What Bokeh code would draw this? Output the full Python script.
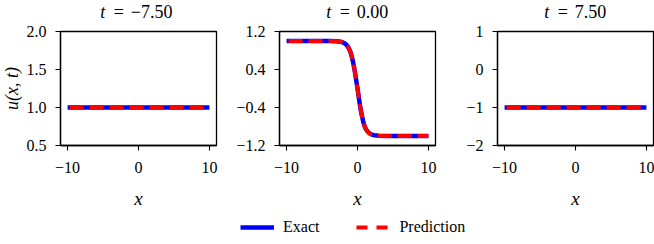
import math
from bokeh.plotting import figure
from bokeh.layouts import row, column
from bokeh.models import (FixedTicker, CustomJSTickFormatter, Legend,
                          LegendItem, Range1d)
from bokeh.core.properties import value
from bokeh.embed import file_html
from bokeh.resources import INLINE

# ---------------- data ----------------
t_values = [-7.5, 0.0, 7.5]
x_ticks = [-10, 0, 10]
y_ticks_left = [0.5, 1.0, 1.5, 2.0]
y_ticks_mid = [-1.2, -0.4, 0.4, 1.2]
y_ticks_right = [-2, -1, 0, 1]
y_lim_left = (0.5, 2.0)
y_lim_mid = (-1.2, 1.2)
y_lim_right = (-2.0, 1.0)
y_label = "u(x, t)"
x_label = "x"
legend_labels = ["Exact", "Prediction"]

x_left = [-10, -5, 0, 5, 10]
u_left_exact = [1.0, 1.0, 1.0, 1.0, 1.0]
u_left_pred = [1.0, 1.0, 1.0, 1.0, 1.0]

x_mid = [-10, -6, -4, -3, -2.4, -2.0, -1.8, -1.6, -1.4, -1.2, -1.0, -0.8, -0.6,
         -0.4, -0.2, 0.0, 0.2, 0.4, 0.6, 0.8, 1.0, 1.2, 1.4, 1.6, 1.8, 2.0,
         2.4, 3.0, 4.0, 6.0, 10.0]
u_mid_exact = [1.0, 1.0, 1.0, 0.995, 0.985, 0.965, 0.95, 0.925, 0.89, 0.84,
               0.77, 0.67, 0.54, 0.38, 0.19, 0.0, -0.2, -0.4, -0.56, -0.69,
               -0.79, -0.86, -0.9, -0.93, -0.955, -0.97, -0.985, -0.995, -1.0,
               -1.0, -1.0]
u_mid_pred = list(u_mid_exact)

x_right = [-10, -5, 0, 5, 10]
u_right_exact = [-1.0, -1.0, -1.0, -1.0, -1.0]
u_right_pred = [-1.0, -1.0, -1.0, -1.0, -1.0]

# ---------------- style ----------------
FONT = "'Liberation Serif', serif"
TICK_PX = "16px"
LABEL_PX = "19px"
TITLE_PX = 18
BLUE = "#0000ff"
RED = "#ff0000"

FRAME_W, FRAME_H = 156, 114
TITLE_H = 21
BORDER_TOP = 10
BORDER_BOTTOM = 72
PANEL_H = BORDER_TOP + FRAME_H + BORDER_BOTTOM
YLAB_W = 22
X_RANGE = (-11, 11)

# approximate math-style advances (em) for laying out the title pieces
EM_ADV = {"−": 0.778, ".": 0.278}


def adv(s, px):
    return sum(EM_ADV.get(c, 0.5) for c in s) * px


def fmt_code(dec):
    return "var s = tick.toFixed(%d); return s.replace('-', '\\u2212');" % dec


def blank_fig(width, height, xr, yr):
    f = figure(width=width, height=height, min_border=0, title=None,
               x_range=Range1d(*xr), y_range=Range1d(*yr),
               toolbar_location=None, output_backend="svg",
               background_fill_color="white", border_fill_color="white")
    f.outline_line_color = None
    f.axis.visible = False
    f.grid.visible = False
    return f


def make_title(tval, left, right):
    f = figure(frame_width=FRAME_W, frame_height=TITLE_H, min_border_left=left,
               min_border_right=right, min_border_top=0, min_border_bottom=0,
               title=None,
               x_range=Range1d(*X_RANGE), y_range=Range1d(0, TITLE_H),
               toolbar_location=None, output_backend="svg",
               background_fill_color="white", border_fill_color="white")
    f.outline_line_color = None
    f.axis.visible = False
    f.grid.visible = False
    val = ("%.2f" % tval).replace("-", "−")
    px = TITLE_PX
    t_w, gap, eq_w = 0.361 * px, 0.278 * px, 0.778 * px
    total = t_w + gap + eq_w + gap + adv(val, px)
    start = -total / 2.0
    mid_y = TITLE_H - (17.3 - 0.34 * px)
    common = dict(text_font=value(FONT), text_font_size="%dpx" % px,
                  text_color="black", text_baseline="middle")
    f.text(x=[0], y=[mid_y], text=["t"], x_offset=start, text_align="left",
           text_font_style="italic", **common)
    f.text(x=[0], y=[mid_y], text=["="], x_offset=start + t_w + gap + eq_w / 2,
           text_align="center", **common)
    f.text(x=[0], y=[mid_y], text=[val],
           x_offset=start + t_w + gap + eq_w + gap, text_align="left", **common)
    return f


def make_panel(xs, ue, up, ylim, yticks, ydec, left, right):
    p = figure(frame_width=FRAME_W, frame_height=FRAME_H,
               min_border_left=left, min_border_right=right,
               min_border_top=BORDER_TOP, min_border_bottom=BORDER_BOTTOM,
               title=None,
               x_range=Range1d(*X_RANGE), y_range=Range1d(*ylim),
               toolbar_location=None, output_backend="svg",
               background_fill_color="white", border_fill_color="white")
    p.grid.visible = False
    p.outline_line_color = "black"
    p.outline_line_width = 1.3
    p.outline_line_alpha = 1.0

    for ax in (p.xaxis[0], p.yaxis[0]):
        ax.axis_line_color = "black"
        ax.axis_line_width = 1.3
        ax.major_tick_line_color = "black"
        ax.major_tick_line_width = 1.1
        ax.major_tick_out = 5
        ax.major_tick_in = 0
        ax.minor_tick_line_color = None
        ax.major_label_text_font = FONT
        ax.major_label_text_font_size = TICK_PX
        ax.major_label_text_color = "black"
        ax.axis_label_text_font = FONT
        ax.axis_label_text_font_size = LABEL_PX
        ax.axis_label_text_font_style = "italic"
        ax.axis_label_text_color = "black"

    p.xaxis.ticker = FixedTicker(ticks=x_ticks)
    p.xaxis.formatter = CustomJSTickFormatter(code=fmt_code(0))
    p.xaxis.major_label_standoff = 11
    p.xaxis.axis_label = x_label
    p.xaxis.axis_label_standoff = 12

    p.yaxis.ticker = FixedTicker(ticks=yticks)
    p.yaxis.formatter = CustomJSTickFormatter(code=fmt_code(ydec))
    p.yaxis.major_label_standoff = 9

    p.line(xs, ue, line_color=BLUE, line_width=4.5, line_cap="butt")
    p.line(xs, up, line_color=RED, line_width=4, line_dash="14 6",
           line_dash_offset=18, line_cap="butt")
    return p


L1, R1 = 60 - YLAB_W, 17
L2, R2 = 46, 16
L3, R3 = 46, 1

p1 = make_panel(x_left, u_left_exact, u_left_pred, y_lim_left, y_ticks_left, 1, L1, R1)
p2 = make_panel(x_mid, u_mid_exact, u_mid_pred, y_lim_mid, y_ticks_mid, 1, L2, R2)
p3 = make_panel(x_right, u_right_exact, u_right_pred, y_lim_right, y_ticks_right, 0, L3, R3)
t1 = make_title(t_values[0], L1, R1)
t2 = make_title(t_values[1], L2, R2)
t3 = make_title(t_values[2], L3, R3)

# y label strip (rotated text), centred on the left panel's frame
ylab_h = TITLE_H + PANEL_H
ylab = blank_fig(YLAB_W, ylab_h, (0, YLAB_W), (0, ylab_h))
ylab.text(x=[YLAB_W / 2.0], y=[BORDER_BOTTOM + FRAME_H / 2.0],
          text=[y_label], angle=math.pi / 2, text_font=value(FONT),
          text_font_size="18px", text_font_style="italic", text_color="black",
          text_align="center", text_baseline="middle")

# ---------------- legend strip ----------------
LEG_H = 244 - TITLE_H - PANEL_H
leg = blank_fig(654, LEG_H, (0, 1), (50, 60))
le = leg.line(x_left, u_left_exact, line_color=BLUE, line_width=4.5, line_cap="butt")
lp = leg.line(x_left, u_left_pred, line_color=RED, line_width=4, line_dash="11 9",
              line_cap="butt")
legend = Legend(items=[LegendItem(label=legend_labels[0], renderers=[le]),
                       LegendItem(label=legend_labels[1], renderers=[lp])],
                orientation="horizontal", location=(240, 8),
                glyph_width=34, glyph_height=16, label_height=16,
                label_standoff=9, spacing=37, padding=0, margin=0,
                label_text_font=FONT, label_text_font_size="16px",
                label_text_color="black",
                border_line_color=None, background_fill_alpha=0)
leg.add_layout(legend, "center")

top = row(ylab, column(t1, p1, spacing=0), column(t2, p2, spacing=0),
          column(t3, p3, spacing=0), spacing=0)
layout = column(top, leg, spacing=0)

open("out.html", "w").write(file_html(layout, INLINE))
